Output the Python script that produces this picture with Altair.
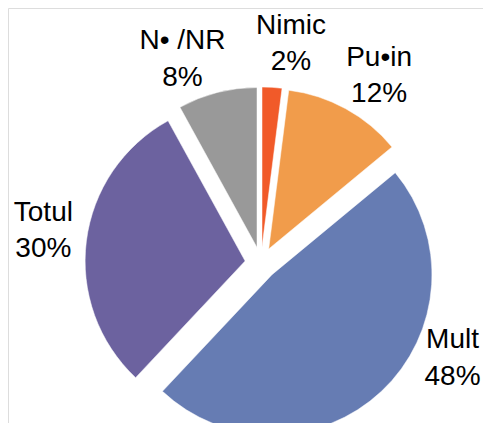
import math
import altair as alt
import pandas as pd

# ---- data ----
categories = ["Nimic", "Pu\u2022in", "Mult", "Totul", "N\u2022 /NR"]
values = [2, 12, 48, 30, 8]

# ---- style ----
colors = ["#F15A29", "#F19C4B", "#667CB3", "#6C629F", "#999999"]
W, H = 475, 415
CX, CY = 253, 255          # pie centre (plot coords)
R = 160                    # pie radius
EXPLODE = 16               # explosion distance for every slice
LINE_H = 36.5
# label placement: (angle in degrees clockwise from 12 o'clock, distance)
label_pos = {"Nimic": (7.8, 221), "Pu\u2022in": (32.3, 221),
             "Mult": (116.5, 214), "Totul": (278.4, 220),
             "N\u2022 /NR": (338.9, 218)}

df = pd.DataFrame({"cat": categories, "value": values,
                   "order": list(range(len(categories)))})

slices = alt.Chart(df).transform_window(
    cum="sum(value)", sort=[alt.SortField("order")], frame=[None, 0]
).transform_joinaggregate(
    total="sum(value)"
).transform_calculate(
    t0="(datum.cum - datum.value) / datum.total * 2 * PI",
    t1="datum.cum / datum.total * 2 * PI",
).transform_calculate(
    mid="(datum.t0 + datum.t1) / 2"
).transform_calculate(
    cx=f"{CX} + {EXPLODE} * sin(datum.mid)",
    cy=f"{CY} - {EXPLODE} * cos(datum.mid)",
).mark_arc(outerRadius=R, stroke="white", strokeWidth=0.5).encode(
    theta=alt.Theta("t0:Q", scale=None),
    theta2="t1:Q",
    x=alt.X("cx:Q", scale=None),
    y=alt.Y("cy:Q", scale=None),
    color=alt.Color("cat:N", scale=alt.Scale(domain=categories, range=colors),
                    legend=None),
)

lab = df.copy()
lab["label"] = [f"{c}\n{v}%" for c, v in zip(categories, values)]
lab["la"] = [label_pos[c][0] for c in categories]
lab["lr"] = [label_pos[c][1] for c in categories]

labels = alt.Chart(lab).transform_calculate(
    lx=f"{CX} + datum.lr * sin(datum.la * PI / 180)",
    ly=f"{CY} - datum.lr * cos(datum.la * PI / 180)",
).mark_text(
    font="Liberation Sans", fontSize=28, color="black", lineBreak="\n",
    lineHeight=LINE_H, align="center", baseline="middle", dy=-LINE_H / 2,
).encode(
    x=alt.X("lx:Q", scale=None),
    y=alt.Y("ly:Q", scale=None),
    text="label:N",
)

chart = alt.layer(slices, labels).properties(
    width=W, height=H, autosize="none", padding=0,
).configure_view(stroke=None, strokeWidth=0).configure(background="white")

chart.save("out.html", embed_options={"renderer": "svg", "actions": False})
